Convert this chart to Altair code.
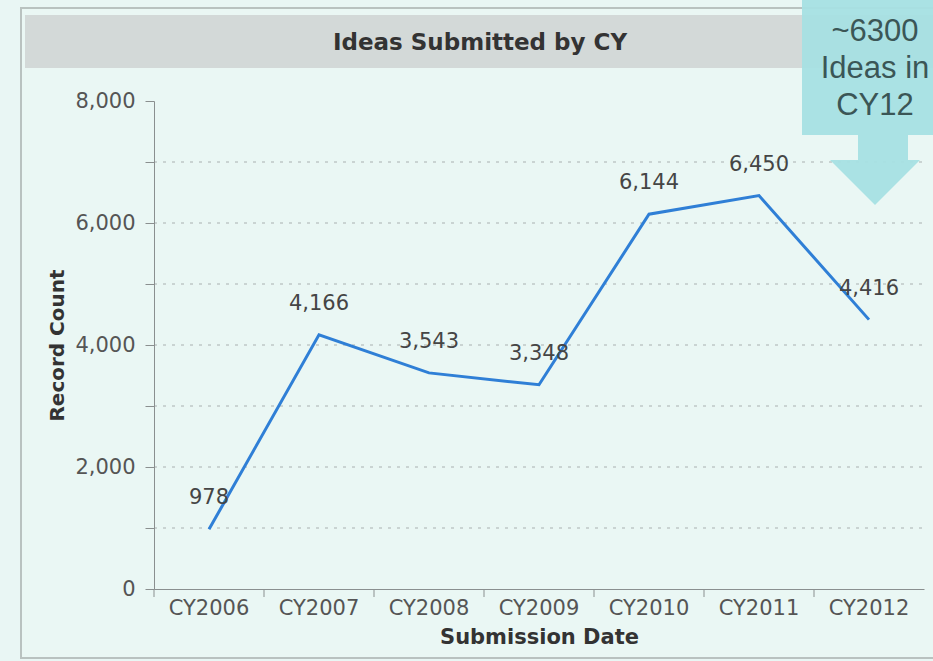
import altair as alt
import pandas as pd

years = ["CY2006", "CY2007", "CY2008", "CY2009", "CY2010", "CY2011", "CY2012"]
counts = [978, 4166, 3543, 3348, 6144, 6450, 4416]
grid_values = [1000, 2000, 3000, 4000, 5000, 6000, 7000]
y_ticks = [0, 1000, 2000, 3000, 4000, 5000, 6000, 7000, 8000]
title_text = "Ideas Submitted by CY"
callout_lines = ["~6300", "Ideas in", "CY12"]

df = pd.DataFrame({"year": years, "count": counts})
grid_df = pd.DataFrame({"g": grid_values})

W, H = 770, 488
FONT = "DejaVu Sans"
AXIS_GRAY = "#8a8f8f"

xaxis = alt.Axis(labelFont=FONT, labelFontSize=21, labelColor="#555555",
                 labelAngle=0, labelPadding=8, zindex=2, ticks=False, tickSize=0,
                 domainColor=AXIS_GRAY, titleFont=FONT, titleFontSize=21,
                 titleFontWeight="bold", titleColor="#333333", titlePadding=8, grid=False)
xscale = alt.Scale(paddingInner=0, paddingOuter=0)
yscale = alt.Scale(domain=[0, 8000], nice=False)
yaxis = alt.Axis(values=y_ticks, labelExpr="datum.value % 2000 == 0 ? format(datum.value, ',') : ''",
                 labelFont=FONT, labelFontSize=21, labelColor="#555555", zindex=2,
                 labelPadding=10, domainColor=AXIS_GRAY, tickColor=AXIS_GRAY,
                 tickSize=9, grid=False, titleFont=FONT, titleFontSize=20,
                 titleFontWeight="bold", titleColor="#333333", titlePadding=7)

def X(**kw):
    return alt.X("year:N", sort=years, title="Submission Date", scale=xscale, axis=xaxis, **kw)

def Y(field):
    return alt.Y(field, scale=yscale, title="Record Count", axis=yaxis)

one = pd.DataFrame({"a": [0]})

# decorative panel pieces
panel = alt.Chart(one).mark_rect(
    fill="#eaf7f4", stroke="#b9c2c0", strokeWidth=2, clip=False
).encode(x=alt.value(-133), x2=alt.value(W + 30), y=alt.value(-93), y2=alt.value(H + 69))

band = alt.Chart(one).mark_rect(fill="#d3d9d8", clip=False).encode(
    x=alt.value(-129), x2=alt.value(W + 30), y=alt.value(-86), y2=alt.value(-33))

title = alt.Chart(pd.DataFrame({"t": [title_text]})).mark_text(
    font=FONT, fontSize=23, fontWeight="bold", color="#333333", clip=False
).encode(text="t:N", x=alt.value(326), y=alt.value(-58))

grid = alt.Chart(grid_df).mark_rule(color="#a9b0b0", strokeDash=[3, 6], strokeWidth=1).encode(
    y=Y("g:Q"), x=alt.value(0), x2=alt.value(W))

xticks = alt.Chart(df).mark_rule(color=AXIS_GRAY, strokeWidth=1).encode(
    x=X(bandPosition=0), y=alt.value(H), y2=alt.value(H + 8))

line = alt.Chart(df).mark_line(color="#2f7fd6", strokeWidth=3).encode(x=X(), y=Y("count:Q"))

labels = alt.Chart(df).mark_text(font=FONT, fontSize=21, color="#454545", dy=-31).encode(
    x=X(), y=Y("count:Q"), text=alt.Text("count:Q", format=","))

callout_box = alt.Chart(one).mark_rect(fill="#a6e0e3", opacity=0.95, clip=False).encode(
    x=alt.value(648), x2=alt.value(790), y=alt.value(-110), y2=alt.value(34))
shaft = alt.Chart(one).mark_rect(fill="#a6e0e3", opacity=0.95, clip=False).encode(
    x=alt.value(704), x2=alt.value(754), y=alt.value(34), y2=alt.value(59))
head = alt.Chart(one).mark_point(
    shape="M -1 -0.5 L 1 -0.5 L 0 0.5 Z", size=8100, filled=True, fill="#a6e0e3",
    opacity=0.95, strokeWidth=0, clip=False
).encode(x=alt.value(721), y=alt.value(81.5))

callout_df = pd.DataFrame({"t": ["\n".join(callout_lines)]})
callout_text = alt.Chart(callout_df).mark_text(
    font="Liberation Sans", fontSize=31, color="#3b5656", clip=False, lineBreak="\n",
    lineHeight=37, baseline="middle"
).encode(text="t:N", x=alt.value(721), y=alt.value(-69))

chart = alt.layer(panel, band, title, grid, xticks, line, labels,
                  callout_box, shaft, head, callout_text).properties(
    width=W, height=H, background="#e9f6f4",
    padding={"left": 154, "top": 101, "right": 9, "bottom": 72},
    autosize=alt.AutoSizeParams(type="none")
).configure_view(stroke=None)

chart.save("out.html", embed_options={"renderer": "svg", "actions": False})
